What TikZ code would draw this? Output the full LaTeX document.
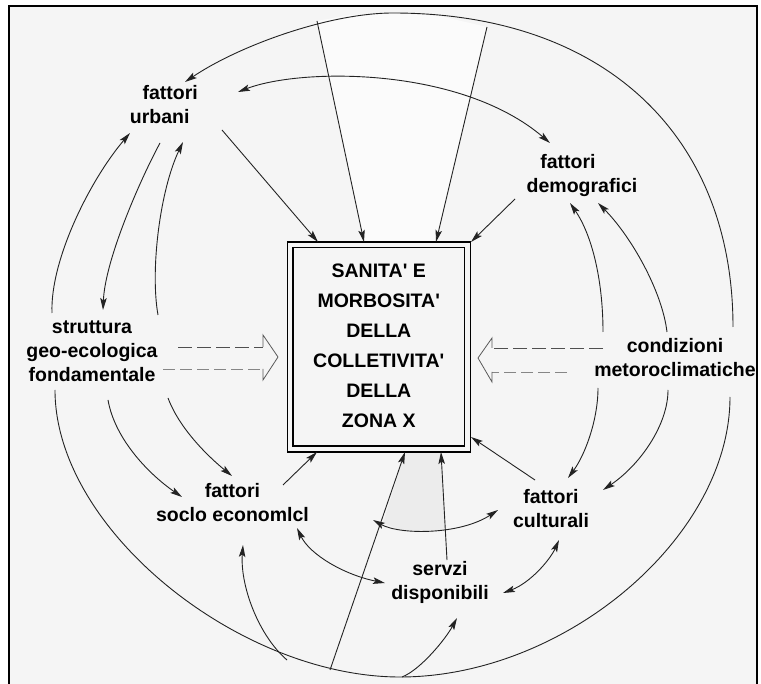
\documentclass[tikz,border=0pt]{standalone}
\usepackage{fontspec}
\setmainfont{Liberation Sans}[Ligatures={TeXOff}]
\usetikzlibrary{arrows.meta,calc}
\definecolor{bgc}{RGB}{245,245,245}
\definecolor{ink}{RGB}{35,35,35}
\definecolor{shadec}{RGB}{236,236,236}
\definecolor{lightc}{RGB}{251,251,251}
\begin{document}
\begin{tikzpicture}[x=1pt,y=-1pt,
  lab/.style={font=\fontsize{19.5}{24}\selectfont\bfseries, align=center, inner sep=0pt, text=black},
  conn/.style={draw=ink, line width=0.9pt},
  arr/.style={conn, -{Stealth[length=12pt,width=6.5pt,inset=2.5pt]}},
  darr/.style={conn, {Stealth[length=12pt,width=6.5pt,inset=2.5pt]}-{Stealth[length=12pt,width=6.5pt,inset=2.5pt]}},
  dashline/.style={draw=ink!80, line width=0.9pt, dash pattern=on 14pt off 5pt},
  dashlight/.style={draw=ink!55, line width=0.9pt, dash pattern=on 12pt off 5pt},
  headline/.style={draw=ink!75, line width=0.8pt, line join=miter},
  mainbox/.style={draw=black, line width=1.2pt, double=bgc, double distance=4.6pt,
    minimum width=177.5pt, minimum height=204pt, inner sep=0pt, outer sep=3.5pt,
    font=\fontsize{19.5}{30}\selectfont\bfseries, align=center, text=black},
]
\useasboundingbox (0,0) rectangle (761,684);
\fill[white] (0,0) rectangle (761,684);
\fill[bgc] (9,6) rectangle (757,690);
\draw[black, line width=2pt] (9,690) -- (9,6) -- (757,6) -- (757,690);

% subtle shaded regions
\fill[lightc] (317,21) -- (350,15) -- (393,13) -- (440,16) -- (487,27) -- (436,242) -- (364,242) -- cycle;
\fill[shadec] (405,453) -- (383,523) -- (400,530) -- (430,532) -- (445,530) -- (441,453) -- cycle;

% nodes
\node[mainbox] (box) at (378.75,347) {SANITA' E\strut\\MORBOSITA'\strut\\DELLA\strut\\COLLETIVITA'\strut\\DELLA\strut\\ZONA X\strut};
\node[lab] (urb) at (165,107) {\hspace*{10.5pt}fattori\strut\\urbani\hspace*{10.5pt}\strut};
\node[lab] (dem) at (575,176) {fattori\hspace*{14pt}\strut\\\hspace*{14pt}demografici\strut};
\node[lab] (str) at (92,353) {struttura\strut\\geo-ecologica\strut\\fondamentale\strut};
\node[lab] (cond) at (675,360) {condizioni\strut\\metoroclimatiche\strut};
\node[lab] (soc) at (232.5,504.5) {fattori\strut\\soclo economlcl\strut};
\node[lab] (cul) at (551,510.5) {fattori\strut\\culturali\strut};
\node[lab] (serv) at (440,582.5) {servzi\strut\\disponibili\strut};

% box shadow edge (right and bottom outer line heavier)
\draw[black, line width=1pt] ([shift={(91.9,-105)}]box.center) -- ([shift={(91.9,105.3)}]box.center) -- ([shift={(-91.9,105.3)}]box.center);

% free ends on the outer curve
\coordinate (t1) at (317,21);
\coordinate (t2) at (487,27);
\coordinate (b1) at (287,660);
\coordinate (b2) at (330,670);
\coordinate (b3) at (402,677);

% outer curve
\draw[arr] ([shift={(58,-33)}]cond.center) .. controls (733,135) and (604,13) .. (393,13)
   .. controls (330,13) and (240,45) .. ([shift={(20,-25)}]urb.center);
\draw[conn] ([shift={(55,37)}]cond.center) .. controls (730,537) and (565,677) .. (400,677)
   .. controls (240,677) and (55,530) .. ([shift={(-37,37)}]str.center);
\draw[arr] ([shift={(-40,-40)}]str.center) .. controls (50,260) and (90,180) .. ([shift={(-35,26)}]urb.center);

% top lines into the box
\draw[arr] (t1) -- ([shift={(-14.75,-105)}]box.center);
\draw[arr] (t2) -- ([shift={(57.25,-105)}]box.center);
\draw[arr] ([shift={(57,23)}]urb.center) -- ([shift={(-60.75,-105)}]box.center);
\draw[arr] ([shift={(-60,23)}]dem.center) -- ([shift={(92.25,-105)}]box.center);
\draw[darr] ([shift={(73,-15)}]urb.center) .. controls (300,68) and (460,66) .. ([shift={(-25,-33)}]dem.center);

% arcs round fattori urbani / struttura
\draw[arr] ([shift={(-5,36)}]urb.center) .. controls (140,180) and (105,260) .. ([shift={(11,-43)}]str.center);
\draw[arr] ([shift={(66,-38)}]str.center) .. controls (150,270) and (160,190) .. ([shift={(18,35)}]urb.center);
\draw[arr] ([shift={(16,47)}]str.center) .. controls (115,440) and (150,475) .. ([shift={(-50.5,-7.5)}]soc.center);
\draw[arr] ([shift={(76,45)}]str.center) .. controls (180,430) and (210,458) .. ([shift={(-0.5,-28.5)}]soc.center);

% hollow dashed arrows
\draw[dashline] ([shift={(86,-6)}]str.center) -- ([shift={(-115.75,0)}]box.center);
\draw[dashlight] ([shift={(71,16)}]str.center) -- ([shift={(-115.75,22)}]box.center);
\draw[headline] ([shift={(-115.75,0)}]box.center) -- ++(0,-12) -- ([shift={(-100.75,10)}]box.center)
   -- ([shift={(-115.75,33)}]box.center) -- ++(0,-11);
\draw[dashline] ([shift={(-72,-12)}]cond.center) -- ([shift={(113.25,1)}]box.center);
\draw[dashlight] ([shift={(-108,12)}]cond.center) -- ([shift={(113.25,25)}]box.center);
\draw[headline] ([shift={(113.25,1)}]box.center) -- ++(0,-10) -- ([shift={(99.25,11)}]box.center)
   -- ([shift={(113.25,35)}]box.center) -- ++(0,-10);

% arcs round condizioni
\draw[arr] ([shift={(-72,-28)}]cond.center) .. controls (603,280) and (592,235) .. ([shift={(-5,27)}]dem.center);
\draw[arr] ([shift={(-8,-28)}]cond.center) .. controls (662,290) and (630,235) .. ([shift={(23,27)}]dem.center);
\draw[arr] ([shift={(-77,28)}]cond.center) .. controls (598,420) and (585,455) .. ([shift={(17,-32.5)}]cul.center);
\draw[arr] ([shift={(-7,30)}]cond.center) .. controls (668,425) and (640,465) .. ([shift={(52,-20.5)}]cul.center);

% lower part
\draw[arr] ([shift={(-16,-30.5)}]cul.center) -- ([shift={(92.25,90)}]box.center);
\draw[arr] ([shift={(50.5,-19.5)}]soc.center) -- ([shift={(-61.75,105)}]box.center);
\draw[darr] ([shift={(140.5,15.5)}]soc.center) .. controls (400,535) and (460,535) .. ([shift={(-53,-0.5)}]cul.center);
\draw[darr] ([shift={(64.5,23.5)}]soc.center) .. controls (310,555) and (345,575) .. ([shift={(-55,0.5)}]serv.center);
\draw[darr] ([shift={(8,29.5)}]cul.center) .. controls (550,560) and (530,583) .. ([shift={(63,10.5)}]serv.center);
\draw[arr] ([shift={(7,-22.5)}]serv.center) -- ([shift={(62.25,105)}]box.center);
\draw[arr] (b1) .. controls (258,635) and (240,585) .. ([shift={(10.5,40.5)}]soc.center);
\draw[arr] (b2) -- ([shift={(26.25,105)}]box.center);
\draw[arr] (b3) .. controls (420,670) and (445,640) .. ([shift={(17,35.5)}]serv.center);
\end{tikzpicture}
\end{document}
